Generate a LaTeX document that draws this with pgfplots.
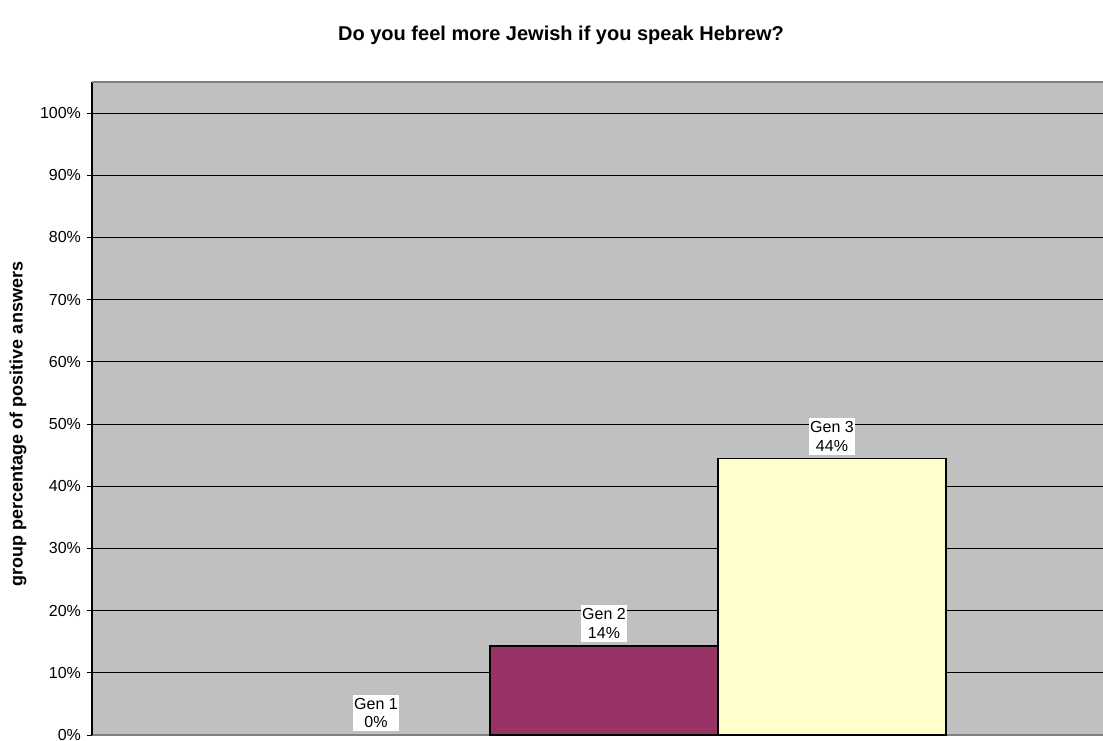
\documentclass[border=0pt]{standalone}
\usepackage{pgfplots}
\pgfplotsset{compat=1.18}
\usepackage{fontspec}
\setmainfont{Liberation Sans}
\definecolor{bg}{HTML}{C0C0C0}
\definecolor{plum}{HTML}{993366}
\definecolor{ivory}{HTML}{FFFFCC}
\definecolor{edge}{HTML}{808080}
\begin{document}
\begin{tikzpicture}
\useasboundingbox (0,0) rectangle (827.25pt,555pt);
\begin{axis}[
  at={(69pt,3.75pt)}, anchor=south west,
  scale only axis, width=758.25pt, height=489.75pt,
  xmin=-1.2456, xmax=3.1886, ymin=0, ymax=105,
  ybar, bar width=1,
  axis background/.style={fill=bg},
  axis x line*=bottom, axis y line*=left,
  axis line style={-},
  x axis line style={draw=edge, line width=1pt},
  y axis line style={draw=black, line width=0.9pt},
  xtick=\empty,
  ytick={0,10,...,100},
  yticklabels={0\%,10\%,20\%,30\%,40\%,50\%,60\%,70\%,80\%,90\%,100\%},
  ymajorgrids, major grid style={black, line width=0.75pt},
  tick align=outside, major tick length=3.75pt,
  ytick style={black, line width=0.75pt},
  yticklabel style={font=\fontsize{12}{14}\selectfont, xshift=-1pt},
  every node near coord/.style={align=center, fill=white, text=black,
    inner xsep=1pt, inner ysep=2.5pt, anchor=south, yshift=2.5pt,
    font=\fontsize{12}{14}\selectfont},
]
\addplot[draw=none, fill=none, bar shift=0pt, nodes near coords={Gen 1\\0\%}] coordinates {(0,0)};
\addplot[draw=black, line width=1.1pt, fill=plum, bar shift=0pt, nodes near coords={Gen 2\\14\%}] coordinates {(1,14.29)};
\addplot[draw=black, line width=1.1pt, fill=ivory, bar shift=0pt, nodes near coords={Gen 3\\44\%}] coordinates {(2,44.44)};
\draw[edge, line width=1pt] (rel axis cs:0,1) -- (rel axis cs:1,1);
\end{axis}
\node[font=\fontsize{15}{18}\bfseries\selectfont] at (420.75pt,528.5pt) {Do you feel more Jewish if you speak Hebrew?};
\node[rotate=90, font=\fontsize{13.5}{16}\bfseries\selectfont] at (13.5pt,237pt) {group percentage of positive answers};
\end{tikzpicture}
\end{document}
